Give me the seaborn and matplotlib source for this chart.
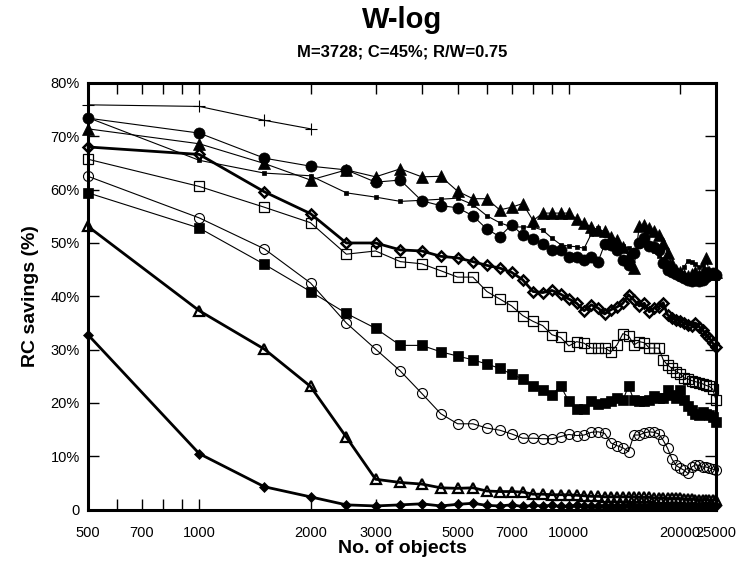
import matplotlib
matplotlib.use('Agg')
import matplotlib.pyplot as plt
import seaborn as sns
import pandas as pd
from matplotlib.ticker import FixedLocator, FixedFormatter, NullFormatter

sns.set_theme(style='ticks')
plt.rcParams['font.family'] = ['Liberation Sans', 'DejaVu Sans']
plt.rcParams['text.color'] = 'black'
plt.rcParams['axes.labelcolor'] = 'black'
plt.rcParams['xtick.color'] = 'black'
plt.rcParams['ytick.color'] = 'black'

# ---------------- data ----------------
objects = [500, 1000, 1500, 2000, 2500, 3000, 3500, 4000, 4500, 5000,
           5500, 6000, 6500, 7000, 7500, 8000, 8500, 9000, 9500, 10000,
           10500, 11000, 11500, 12000, 12500, 13000, 13500, 14000, 14500, 15000,
           15500, 16000, 16500, 17000, 17500, 18000, 18500, 19000, 19500, 20000,
           20500, 21000, 21500, 22000, 22500, 23000, 23500, 24000, 24500, 25000]

plus_objects = [500, 1000, 1500, 2000]
plus_vals = [75.9, 75.6, 73.0, 71.4]

filled_circle = [73.4, 70.6, 65.9, 64.4, 63.7, 61.4, 61.8, 57.9, 57.0, 56.6,
                 55.1, 52.6, 51.2, 53.4, 51.5, 50.8, 49.8, 48.7, 48.6, 47.4,
                 47.4, 46.8, 47.4, 46.5, 49.8, 49.6, 48.7, 46.8, 45.9, 48.1,
                 50.0, 51.0, 49.5, 49.3, 48.7, 46.2, 45.0, 44.6, 44.2, 43.8,
                 43.5, 43.1, 42.8, 43.1, 42.8, 43.1, 43.6, 44.0, 44.4, 44.0]

filled_triangle = [71.4, 68.6, 64.9, 61.8, 63.7, 62.4, 63.9, 62.4, 62.5, 59.7,
                   58.3, 58.3, 56.2, 56.7, 57.4, 54.2, 55.6, 55.6, 55.6, 55.6,
                   54.5, 53.7, 53.0, 52.5, 52.2, 51.2, 50.6, 49.3, 47.5, 45.3,
                   53.1, 53.4, 52.8, 52.2, 51.5, 50.0, 48.1, 46.0, 45.0, 44.5,
                   44.0, 43.8, 44.2, 44.5, 44.0, 44.5, 47.2, 44.5, 44.2, 44.5]

small_dot = [73.5, 65.5, 63.1, 62.6, 59.4, 58.6, 57.8, 58.0, 58.2, 58.4,
             57.2, 55.1, 53.8, 53.0, 53.0, 53.0, 52.4, 50.9, 49.7, 49.4,
             49.3, 49.0, 51.7, 52.8, 51.5, 50.8, 50.3, 49.5, 49.0, 48.7,
             49.5, 50.0, 49.5, 48.5, 47.5, 47.0, 46.5, 45.5, 45.0, 44.5,
             45.5, 46.7, 46.5, 46.0, 45.5, 45.8, 45.2, 44.8, 44.5, 44.2]

open_diamond = [68.0, 66.6, 59.6, 55.5, 50.0, 50.0, 48.7, 48.5, 47.5, 47.2,
                46.5, 45.8, 45.3, 44.5, 43.1, 40.9, 40.7, 41.1, 40.4, 39.5,
                38.7, 37.3, 38.4, 37.8, 36.7, 37.5, 38.0, 38.7, 40.3, 39.3,
                38.2, 38.7, 37.1, 37.8, 38.0, 38.8, 36.5, 35.9, 35.6, 35.3,
                35.0, 34.7, 34.5, 35.0, 34.3, 33.7, 32.8, 32.2, 31.2, 30.5]

open_square = [65.7, 60.6, 56.7, 53.8, 47.9, 48.5, 46.5, 46.1, 44.8, 43.6,
               43.6, 40.9, 39.5, 38.2, 36.4, 35.3, 34.5, 32.8, 32.3, 30.7,
               31.5, 31.2, 30.3, 30.3, 30.3, 29.6, 30.9, 33.0, 32.6, 30.9,
               31.5, 31.3, 30.3, 30.3, 30.3, 28.1, 27.1, 26.5, 25.9, 25.5,
               24.7, 24.5, 24.2, 24.0, 23.8, 23.6, 23.3, 23.1, 22.6, 20.6]

open_circle = [62.5, 54.7, 48.9, 42.5, 35.0, 30.1, 26.0, 21.8, 18.0, 16.1,
               16.1, 15.3, 14.9, 14.2, 13.4, 13.4, 13.3, 13.3, 13.7, 14.1,
               13.9, 14.0, 14.5, 14.6, 14.3, 12.5, 12.0, 11.6, 10.9, 14.0,
               14.0, 14.4, 14.6, 14.5, 14.2, 13.0, 11.5, 9.5, 8.3, 7.8,
               7.4, 6.8, 8.0, 8.4, 8.3, 8.0, 8.0, 7.8, 7.6, 7.4]

filled_square = [59.4, 52.8, 46.0, 40.9, 36.8, 34.0, 30.8, 30.8, 29.6, 28.8,
                 28.1, 27.3, 26.5, 25.4, 24.5, 23.1, 22.5, 21.5, 23.2, 20.3,
                 18.8, 18.8, 20.4, 19.8, 20.0, 20.3, 20.9, 20.5, 23.2, 20.5,
                 20.3, 20.4, 20.6, 21.3, 21.0, 21.0, 22.5, 21.5, 21.0, 22.4,
                 20.6, 19.5, 18.7, 18.0, 17.8, 18.4, 18.0, 17.8, 17.3, 16.5]

open_triangle = [53.1, 37.3, 30.1, 23.1, 13.6, 5.7, 5.1, 4.8, 4.1, 4.0,
                 4.1, 3.5, 3.4, 3.4, 3.3, 2.9, 2.9, 2.8, 2.8, 2.8,
                 2.7, 2.6, 2.5, 2.5, 2.4, 2.4, 2.4, 2.4, 2.4, 2.4,
                 2.3, 2.3, 2.3, 2.2, 2.2, 2.2, 2.1, 2.1, 2.1, 2.1,
                 2.0, 2.0, 2.0, 1.9, 1.9, 1.9, 1.9, 1.8, 1.8, 1.8]

filled_diamond = [32.8, 10.5, 4.3, 2.4, 0.9, 0.7, 0.9, 1.1, 0.7, 1.0,
                  1.2, 0.8, 0.7, 0.9, 0.6, 0.8, 0.7, 0.8, 0.6, 0.7,
                  0.8, 0.6, 0.7, 0.6, 0.7, 0.6, 0.7, 0.6, 0.8, 0.6,
                  0.7, 0.6, 0.6, 0.7, 0.6, 0.6, 0.7, 0.6, 0.6, 0.6,
                  0.7, 0.6, 0.6, 0.6, 0.6, 0.7, 0.6, 0.6, 0.6, 0.6]

x_major = [500, 700, 1000, 2000, 3000, 5000, 7000, 10000, 20000, 25000]
x_major_labels = ['500', '700', '1000', '2000', '3000', '5000', '7000', '10000', '20000', '25000']
x_minor = [600, 800, 900, 4000, 6000, 8000, 9000]
y_ticks = [0, 10, 20, 30, 40, 50, 60, 70, 80]
y_labels = ['0', '10%', '20%', '30%', '40%', '50%', '60%', '70%', '80%']

title = 'W-log'
subtitle = 'M=3728; C=45%; R/W=0.75'

# ---------------- plot ----------------
fig = plt.figure(figsize=(7.43, 5.67), dpi=100)
ax = fig.add_axes([0.1184, 0.1011, 0.8452, 0.7526])

series = [
    (plus_objects, plus_vals, dict(marker='+', markersize=8, markerfacecolor='black', markeredgewidth=0.8, linewidth=0.8)),
    (objects, small_dot, dict(marker='s', markersize=2.2, markerfacecolor='black', markeredgewidth=0.5, linewidth=0.8)),
    (objects, filled_triangle, dict(marker='^', markersize=8.5, markerfacecolor='black', markeredgewidth=0.5, linewidth=0.8)),
    (objects, filled_circle, dict(marker='o', markersize=8, markerfacecolor='black', markeredgewidth=0.5, linewidth=0.8)),
    (objects, open_square, dict(marker='s', markersize=6.5, markerfacecolor='none', markeredgewidth=0.9, linewidth=0.8)),
    (objects, open_diamond, dict(marker='D', markersize=5.2, markerfacecolor='none', markeredgewidth=1.8, linewidth=2.0)),
    (objects, open_circle, dict(marker='o', markersize=7.2, markerfacecolor='none', markeredgewidth=0.8, linewidth=0.8)),
    (objects, filled_square, dict(marker='s', markersize=7, markerfacecolor='black', markeredgewidth=0.5, linewidth=0.8)),
    (objects, open_triangle, dict(marker='^', markersize=7.5, markerfacecolor='none', markeredgewidth=1.6, linewidth=2.0)),
    (objects, filled_diamond, dict(marker='D', markersize=5.2, markerfacecolor='black', markeredgewidth=0.5, linewidth=2.0)),
]

for xs, ys, kw in series:
    df = pd.DataFrame({'objects': xs, 'savings': ys})
    sns.lineplot(data=df, x='objects', y='savings', ax=ax, color='black',
                 markeredgecolor='black', clip_on=False, legend=False,
                 sort=False, zorder=3, **kw)

ax.set_xscale('log')
ax.set_xlim(500, 25000)
ax.set_ylim(0, 80)

ax.xaxis.set_major_locator(FixedLocator(x_major))
ax.xaxis.set_major_formatter(FixedFormatter(x_major_labels))
ax.xaxis.set_minor_locator(FixedLocator(x_minor))
ax.xaxis.set_minor_formatter(NullFormatter())
ax.yaxis.set_major_locator(FixedLocator(y_ticks))
ax.yaxis.set_major_formatter(FixedFormatter(y_labels))
ax.yaxis.set_minor_locator(FixedLocator([]))

ax.tick_params(which='both', direction='in', top=True, right=True,
               length=8, width=1, colors='black', labelsize=10.5)
ax.tick_params(axis='x', which='both', pad=12)
ax.tick_params(axis='y', which='both', pad=6)

for sp in ax.spines.values():
    sp.set_visible(True)
    sp.set_linewidth(2.2)
    sp.set_color('black')
    sp.set_zorder(5)

ax.set_xlabel('No. of objects', fontsize=14, fontweight='bold', labelpad=0)
ax.set_ylabel('RC savings (%)', fontsize=14, fontweight='bold', labelpad=8)

cx = 0.1184 + 0.8452 / 2
fig.text(cx, 0.965, title, ha='center', va='center', fontsize=21, fontweight='bold')
fig.text(cx, 0.909, subtitle, ha='center', va='center', fontsize=12, fontweight='bold')

fig.savefig('out.png', dpi=100)
